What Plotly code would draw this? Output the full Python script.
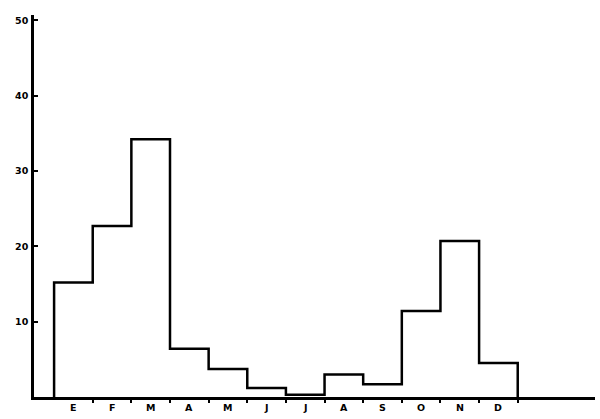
import plotly.graph_objects as go

months = ["E", "F", "M", "A", "M", "J", "J", "A", "S", "O", "N", "D"]
values = [15.2, 22.7, 34.2, 6.4, 3.7, 1.2, 0.3, 3.0, 1.7, 11.4, 20.7, 4.5]
y_ticks = [10, 20, 30, 40, 50]

n = len(values)
xs = [0] + list(range(n)) + [n, n]
ys = [0] + values + [values[-1], 0]

fig = go.Figure()
fig.add_trace(go.Scatter(x=xs, y=ys, mode="lines", line=dict(shape="hv", color="black", width=2.5),
                         hoverinfo="skip", showlegend=False))

font = dict(family="DejaVu Sans", size=9.5, color="black")
for i, m in enumerate(months):
    fig.add_annotation(x=i + 0.5, y=0, yref="y", xref="x", text="<b>" + m + "</b>", showarrow=False,
                       yshift=-10, font=font)

fig.update_layout(
    width=600, height=419,
    margin=dict(l=34, r=5, t=15, b=22, autoexpand=False),
    plot_bgcolor="white", paper_bgcolor="white",
    xaxis=dict(range=[-0.52, 14.0], showgrid=False, zeroline=False, showline=True, linecolor="black",
               linewidth=2.5, tickvals=list(range(1, n + 1)), ticktext=[""] * n, ticks="outside",
               ticklen=3, tickwidth=1.5, tickcolor="black", automargin=False),
    yaxis=dict(range=[0, 50.7], showgrid=False, zeroline=False, showline=True, linecolor="black",
               linewidth=2.5, tickvals=y_ticks, ticktext=["<b>%d</b>" % v for v in y_ticks],
               ticks="inside", ticklen=4, tickwidth=1.5, tickcolor="black", tickfont=font,
               ticklabelstandoff=1, automargin=False),
)
fig.write_html("out.html", config={"displayModeBar": False},
               post_script="document.body.style.margin='0';document.body.style.overflow='hidden';")
